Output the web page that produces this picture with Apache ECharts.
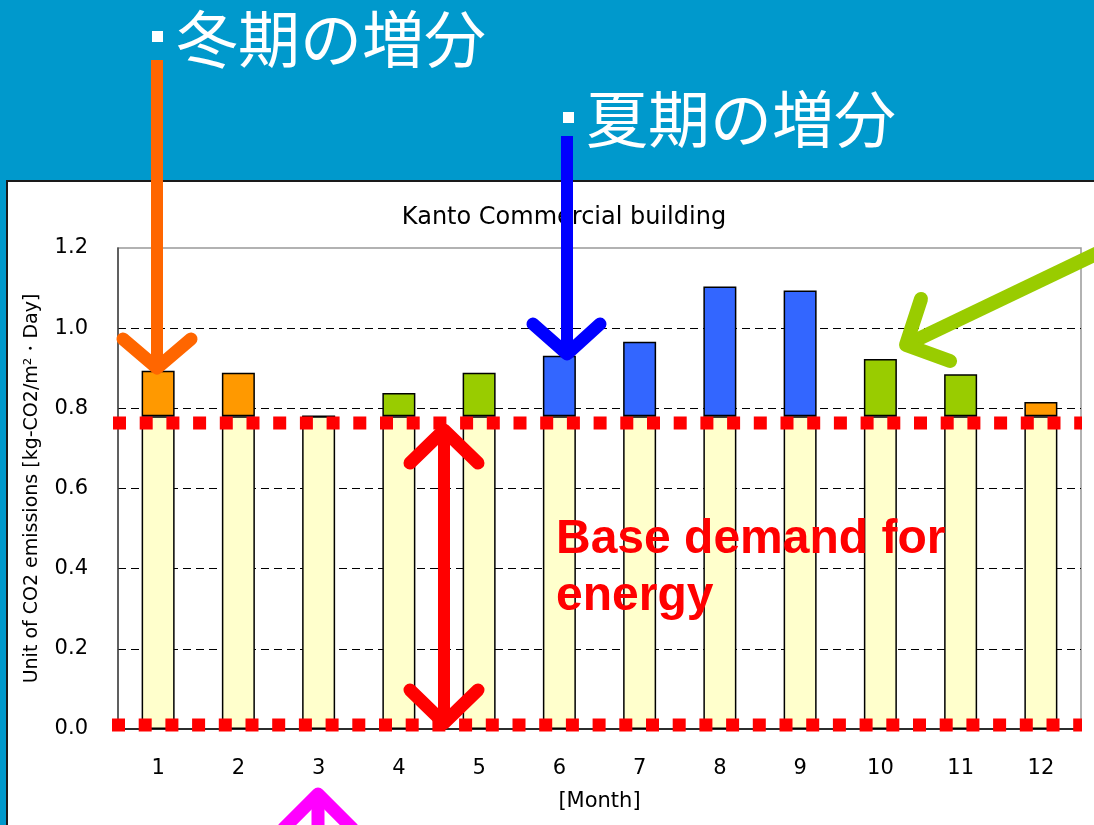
<!DOCTYPE html>
<html>
<head>
<meta charset="utf-8">
<title>Kanto Commercial building</title>
<script src="https://cdn.jsdelivr.net/npm/echarts@6/dist/echarts.min.js"></script>
<style>
  html, body { margin: 0; padding: 0; background: #ffffff; }
  #chart { width: 1094px; height: 825px; }
</style>
</head>
<body>
<div id="chart"></div>
<script>
// Monthly unit CO2 emissions, kg-CO2/m²·Day
const months = ['1', '2', '3', '4', '5', '6', '7', '8', '9', '10', '11', '12'];
// base demand for energy (lower stacked part)
const baseDemand = [0.78, 0.78, 0.78, 0.78, 0.78, 0.78, 0.78, 0.78, 0.78, 0.78, 0.78, 0.78];
// seasonal increment above the base demand
const increment = [0.114, 0.109, 0, 0.058, 0.109, 0.151, 0.186, 0.324, 0.314, 0.143, 0.105, 0.036];
// season of each increment: winter heating, summer cooling, mid-season
const season = ['winter', 'winter', 'mid', 'mid', 'mid', 'summer', 'summer', 'summer', 'summer', 'mid', 'mid', 'winter'];
const yTicks = [0, 0.2, 0.4, 0.6, 0.8, 1.0, 1.2];

const seasonColor = { winter: '#FF9900', summer: '#3366FF', mid: '#99CC00' };

const chart = echarts.init(document.getElementById('chart'), null, { renderer: 'canvas' });

function poly(points, color, width, cap) {
  return {
    type: 'polyline', z: 100, silent: true,
    shape: { points: points },
    style: { stroke: color, lineWidth: width, lineCap: cap || 'round', lineJoin: 'round', fill: null }
  };
}
function dotted(x1, x2, y) {
  return {
    type: 'line', z: 90, silent: true,
    shape: { x1: x1, y1: y, x2: x2, y2: y },
    style: { stroke: '#FF0000', lineWidth: 13, lineDash: [13, 13.7], lineCap: 'butt' }
  };
}
function whiteText(text, x, y) {
  return {
    type: 'text', z: 100, silent: true, x: x, y: y,
    style: {
      text: text, fill: '#ffffff', font: 'normal 62px "Noto Sans CJK JP"',
      textAlign: 'left', textVerticalAlign: 'middle'
    }
  };
}
function redText(text, x, y) {
  return {
    type: 'text', z: 100, silent: true, x: x, y: y,
    style: {
      text: text, fill: '#FF0000', font: 'bold 48px "Liberation Sans", Arial, sans-serif',
      textAlign: 'left', textVerticalAlign: 'middle'
    }
  };
}

const graphics = [
  // blue slide band and left strip
  { type: 'rect', z: -1, silent: true, shape: { x: 0, y: 0, width: 1094, height: 181 }, style: { fill: '#0099CC' } },
  { type: 'rect', z: -1, silent: true, shape: { x: 0, y: 181, width: 7, height: 644 }, style: { fill: '#0099CC' } },
  { type: 'line', z: 1, silent: true, shape: { x1: 6, y1: 181, x2: 1094, y2: 181 }, style: { stroke: '#1a1a1a', lineWidth: 2 } },
  { type: 'line', z: 1, silent: true, shape: { x1: 7, y1: 180, x2: 7, y2: 825 }, style: { stroke: '#1a1a1a', lineWidth: 2 } },

  // headings
  { type: 'rect', z: 100, silent: true, shape: { x: 152, y: 31, width: 11, height: 11 }, style: { fill: '#ffffff' } },
  whiteText('冬期の増分', 176, 39),
  { type: 'rect', z: 100, silent: true, shape: { x: 563, y: 112, width: 11, height: 11 }, style: { fill: '#ffffff' } },
  whiteText('夏期の増分', 586, 119),

  // base demand markers
  dotted(113, 1082, 423),
  dotted(112, 1082, 725),

  // winter arrow
  poly([[157, 60], [157, 362]], '#FF6600', 12, 'butt'),
  poly([[123, 339], [157, 368], [191, 339]], '#FF6600', 13),
  // summer arrow
  poly([[567, 136], [567, 350]], '#0000FF', 12, 'butt'),
  poly([[533, 324], [567, 354], [600, 324]], '#0000FF', 13),
  // mid-season arrow
  poly([[1100, 252], [912, 342]], '#99CC00', 14, 'butt'),
  poly([[921, 299], [906, 345], [950, 361]], '#99CC00', 14),
  // base demand double arrow
  poly([[444, 436], [444, 717]], '#FF0000', 12, 'butt'),
  poly([[410, 463], [444, 430], [478, 463]], '#FF0000', 13),
  poly([[410, 690], [444, 723], [478, 690]], '#FF0000', 13),
  redText('Base demand for', 556, 540),
  redText('energy', 556, 597),
  // lower arrow
  poly([[318, 800], [318, 830]], '#FF00FF', 13, 'butt'),
  poly([[284, 828], [318, 794], [352, 828]], '#FF00FF', 13)
];

const option = {
  animation: false,
  backgroundColor: '#ffffff',
  textStyle: { fontFamily: '"DejaVu Sans", sans-serif' },
  title: {
    text: 'Kanto Commercial building',
    left: 559,
    textAlign: 'center',
    top: 201,
    textStyle: { fontSize: 24, fontWeight: 'normal', color: '#000', fontFamily: '"DejaVu Sans", sans-serif' }
  },
  grid: {
    left: 118, right: 13, top: 248, bottom: 96,
    show: true, borderColor: '#999', borderWidth: 1.5, backgroundColor: 'transparent'
  },
  xAxis: {
    type: 'category',
    data: months,
    axisTick: { show: false },
    axisLine: { lineStyle: { color: '#000', width: 1.5 } },
    axisLabel: { fontSize: 21, color: '#000', margin: 29 },
    name: '[Month]',
    nameLocation: 'middle',
    nameGap: 62,
    nameTextStyle: { fontSize: 21, color: '#000' }
  },
  yAxis: {
    type: 'value',
    min: yTicks[0],
    max: yTicks[yTicks.length - 1],
    interval: 0.2,
    axisLine: { show: true, lineStyle: { color: '#444', width: 1.5 } },
    axisTick: { show: false },
    axisLabel: { fontSize: 21, color: '#000', margin: 30, formatter: v => v.toFixed(1) },
    splitLine: {
      show: true, showMinLine: false, showMaxLine: false,
      lineStyle: { color: '#000', width: 1, type: [8, 5] }
    },
    name: 'Unit of CO2 emissions [kg-CO2/m²・Day]',
    nameLocation: 'middle',
    nameGap: 76,
    nameTextStyle: { fontSize: 19, color: '#000' }
  },
  series: [
    {
      name: 'Base demand',
      type: 'bar',
      stack: 'total',
      barWidth: 33,
      data: baseDemand,
      itemStyle: { color: '#FFFFCC', borderColor: '#000', borderWidth: 1.5 }
    },
    {
      name: 'Seasonal increment',
      type: 'bar',
      stack: 'total',
      barWidth: 33,
      data: increment.map((v, i) => ({
        value: v,
        itemStyle: { color: seasonColor[season[i]] }
      })),
      itemStyle: { borderColor: '#000', borderWidth: 1.5 }
    }
  ],
  graphic: { elements: graphics }
};

chart.setOption(option);
</script>
</body>
</html>
